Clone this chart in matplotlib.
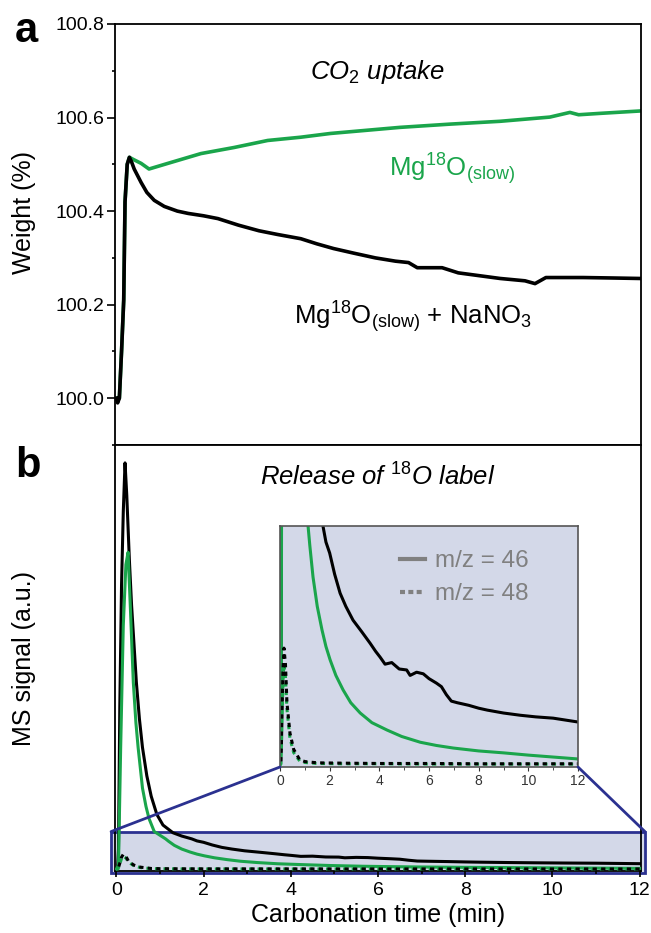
import matplotlib.pyplot as plt
from matplotlib.patches import Rectangle, ConnectionPatch
from matplotlib.lines import Line2D
from matplotlib.ticker import MultipleLocator

plt.rcParams['font.family'] = 'Liberation Sans'
plt.rcParams['mathtext.fontset'] = 'custom'
plt.rcParams['mathtext.rm'] = 'Liberation Sans'
plt.rcParams['mathtext.it'] = 'Liberation Sans:italic'
plt.rcParams['mathtext.bf'] = 'Liberation Sans:bold'

GREEN = '#1aa54b'
BLUE = '#2b3190'
SHADE = '#d3d8e8'

# panel a: TGA weight during carbonation
ta_black = [0, 0.03, 0.07, 0.12, 0.17, 0.2, 0.25, 0.3, 0.35, 0.41, 0.57, 0.7, 0.87, 1.1,
            1.4, 1.65, 2.0, 2.33, 2.8, 3.27, 3.7, 4.23, 4.6, 4.98, 5.45, 5.94, 6.4, 6.7,
            6.9, 7.2, 7.47, 7.84, 8.32, 8.8, 9.37, 9.6, 9.85, 10.3, 10.7, 11.4, 12.0]
wa_black = [100.0, 99.99, 100.0, 100.1, 100.21, 100.42, 100.5, 100.515, 100.505, 100.49,
            100.461, 100.44, 100.423, 100.41, 100.40, 100.395, 100.39, 100.384, 100.37,
            100.358, 100.35, 100.341, 100.33, 100.32, 100.31, 100.30, 100.293, 100.29,
            100.279, 100.279, 100.279, 100.268, 100.262, 100.256, 100.251, 100.245,
            100.258, 100.258, 100.258, 100.257, 100.256]
ta_green = [0, 0.07, 0.12, 0.17, 0.2, 0.25, 0.3, 0.4, 0.57, 0.75, 1.18, 1.94, 2.7, 3.47,
            4.23, 4.91, 6.5, 7.66, 8.8, 9.94, 10.4, 10.6, 11.1, 12.0]
wa_green = [100.0, 100.0, 100.1, 100.21, 100.42, 100.5, 100.515, 100.51, 100.502, 100.49,
            100.502, 100.523, 100.536, 100.551, 100.558, 100.566, 100.579, 100.586,
            100.592, 100.601, 100.611, 100.606, 100.609, 100.614]

# panel b: MS signal (a.u.), m/z = 46 and m/z = 48
tb_black46 = [0, 0.03, 0.05, 0.08, 0.12, 0.16, 0.2, 0.24, 0.3, 0.35, 0.46, 0.53, 0.6, 0.7,
              0.8, 0.93, 1.07, 1.3, 1.5, 1.73, 1.85, 2.0, 2.2, 2.42, 2.65, 2.94, 3.3, 3.63,
              3.85, 4.03, 4.23, 4.5, 4.8, 5.1, 5.24, 5.5, 5.77, 6.0, 6.3, 6.5, 6.7, 6.9,
              7.14, 7.6, 8.0, 8.35, 9.0, 9.68, 10.3, 11.0, 11.5, 12.0]
sb_black46 = [0.2, 0.5, 5, 40, 70, 88, 100, 92, 76, 65, 46, 37, 30, 23, 18, 13.5, 10.9,
              9.0, 8.2, 7.5, 7.0, 6.66, 6.0, 5.41, 5.0, 4.57, 4.2, 3.85, 3.6, 3.42, 3.2,
              3.25, 3.05, 3.02, 2.85, 2.95, 2.9, 2.75, 2.61, 2.5, 2.25, 2.05, 2.0, 1.92,
              1.83, 1.77, 1.68, 1.61, 1.56, 1.52, 1.46, 1.40]
tb_green46 = [0, 0.05, 0.1, 0.16, 0.22, 0.27, 0.32, 0.39, 0.45, 0.5, 0.6, 0.68, 0.75, 0.87,
              1.0, 1.13, 1.2, 1.33, 1.5, 1.69, 1.85, 2.02, 2.25, 2.54, 2.85, 3.23, 3.7,
              4.31, 4.9, 5.65, 6.3, 6.98, 8.0, 9.0, 10.0, 11.0, 12.0]
sb_green46 = [0.1, 1, 30, 60, 75, 78, 65, 46, 36, 30, 20, 15.5, 12.5, 9.3, 8.4, 7.5, 6.9,
              5.91, 5.0, 4.27, 3.75, 3.33, 2.85, 2.40, 2.0, 1.68, 1.38, 1.15, 0.95, 0.77,
              0.67, 0.59, 0.5, 0.44, 0.37, 0.31, 0.25]
tb_48 = [0, 0.04, 0.08, 0.12, 0.16, 0.22, 0.28, 0.4, 0.55, 0.8, 1.0, 1.5, 2.5, 4.0, 6.0,
         8.0, 10.0, 12.0]
sb_black48 = [0.05, 0.1, 1.5, 3.0, 3.7, 3.2, 2.0, 1.06, 0.55, 0.22, 0.17, 0.13, 0.12, 0.11,
              0.11, 0.1, 0.1, 0.1]
sb_green48 = [0.05, 0.1, 1.3, 2.7, 3.2, 2.8, 1.8, 0.9, 0.45, 0.18, 0.14, 0.11, 0.1, 0.1,
              0.09, 0.09, 0.09, 0.09]

W, H = 651, 933
fig = plt.figure(figsize=(W / 100, H / 100), dpi=100)
axa = fig.add_axes([115 / W, 1 - 445 / H, (641 - 115) / W, (445 - 24) / H])
axb = fig.add_axes([115 / W, 1 - 871 / H, (641 - 115) / W, (871 - 445) / H])
axi = fig.add_axes([280 / W, 1 - 767 / H, (578 - 280) / W, (767 - 526) / H])

for ax in (axa, axb):
    for s in ax.spines.values():
        s.set_linewidth(1.3)
    ax.set_xlim(-0.03, 12.03)

# ---- panel a
axa.plot(ta_green, wa_green, color=GREEN, lw=2.6, solid_joinstyle='round')
axa.plot(ta_black, wa_black, color='black', lw=2.6, solid_joinstyle='round')
axa.set_ylim(99.9, 100.8)
axa.yaxis.set_major_locator(MultipleLocator(0.2))
axa.yaxis.set_minor_locator(MultipleLocator(0.1))
axa.tick_params(axis='y', which='major', length=5.5, width=1.2, labelsize=14, pad=2)
axa.tick_params(axis='y', which='minor', length=2.5, width=1.2)
axa.tick_params(axis='x', which='both', bottom=False, labelbottom=False)
axa.set_ylabel('Weight (%)', fontsize=18)
axa.yaxis.set_label_coords(-0.15, 0.553)
axa.text(0.5, 0.885, r'CO$_\mathit{2}$ uptake', transform=axa.transAxes, fontsize=18.5,
         style='italic', ha='center', va='center')
axa.text(7.7, 100.49, r'Mg$^{\mathregular{18}}$O$_{\mathregular{(slow)}}$', color=GREEN,
         fontsize=18.5, ha='center', va='center')
axa.text(6.8, 100.174, r'Mg$^{\mathregular{18}}$O$_{\mathregular{(slow)}}$ + NaNO$_\mathregular{3}$',
         fontsize=18.5, ha='center', va='center')

# ---- panel b
axb.add_patch(Rectangle((-0.12, -0.9), 12.24, 10.2, facecolor=SHADE, edgecolor=BLUE,
                        lw=2, clip_on=False, zorder=1))
axb.plot(tb_black46, sb_black46, color='black', lw=2.2, zorder=3)
axb.plot(tb_green46, sb_green46, color=GREEN, lw=2.2, zorder=3)
axb.plot(tb_48, sb_green48, color=GREEN, lw=2.2, ls=(0, (1.4, 1.4)), zorder=3)
axb.plot(tb_48, sb_black48, color='black', lw=2.2, ls=(1.4, (1.4, 1.4)), zorder=3)
axb.set_ylim(-0.4, 104.4)
axb.set_yticks([])
axb.xaxis.set_major_locator(MultipleLocator(2))
axb.xaxis.set_minor_locator(MultipleLocator(1))
axb.tick_params(axis='x', which='major', length=4, width=1.2, labelsize=14, pad=4)
axb.tick_params(axis='x', which='minor', length=2.5, width=1.2)
axb.set_xlabel('Carbonation time (min)', fontsize=18, labelpad=3)
axb.set_ylabel('MS signal (a.u.)', fontsize=18)
axb.yaxis.set_label_coords(-0.15, 0.5)
axb.text(0.5, 0.925, r'Release of $^{\mathit{18}}$O label', transform=axb.transAxes,
         fontsize=18.5, style='italic', ha='center', va='center')

# ---- inset (zoom on the shaded box)
axi.set_facecolor(SHADE)
axi.plot(tb_black46, sb_black46, color='black', lw=2.2)
axi.plot(tb_green46, sb_green46, color=GREEN, lw=2.2)
axi.plot(tb_48, sb_green48, color=GREEN, lw=2.2, ls=(0, (1.4, 1.4)))
axi.plot(tb_48, sb_black48, color='black', lw=2.2, ls=(1.4, (1.4, 1.4)))
axi.set_xlim(0, 12)
axi.set_ylim(0, 7.5)
axi.set_yticks([])
axi.xaxis.set_major_locator(MultipleLocator(2))
axi.xaxis.set_minor_locator(MultipleLocator(1))
axi.tick_params(axis='x', which='major', length=3, labelsize=10, pad=2, colors='#333333')
axi.tick_params(axis='x', which='minor', length=2, colors='#333333')
for s in axi.spines.values():
    s.set_color('#555555')
    s.set_linewidth(1.2)
handles = [Line2D([], [], color='#808080', lw=3),
           Line2D([], [], color='#808080', lw=3, ls=(0, (1.2, 0.8)))]
axi.legend(handles, ['m/z = 46', 'm/z = 48'], loc='upper left', bbox_to_anchor=(0.33, 0.99),
           frameon=False, fontsize=17.5, labelcolor='#808080', handlelength=1.0,
           handletextpad=0.45, labelspacing=0.45)

for xa, xb in ((0, -0.12), (1, 12.12)):
    con = ConnectionPatch(xyA=(xa, 0), coordsA=axi.transAxes, xyB=(xb, 9.3),
                          coordsB=axb.transData, color=BLUE, lw=2)
    fig.add_artist(con)

fig.text(15 / W, 1 - 42 / H, 'a', fontsize=30, fontweight='bold', ha='left', va='baseline')
fig.text(15 / W, 1 - 477 / H, 'b', fontsize=30, fontweight='bold', ha='left', va='baseline')

plt.savefig('out.png', dpi=100)
